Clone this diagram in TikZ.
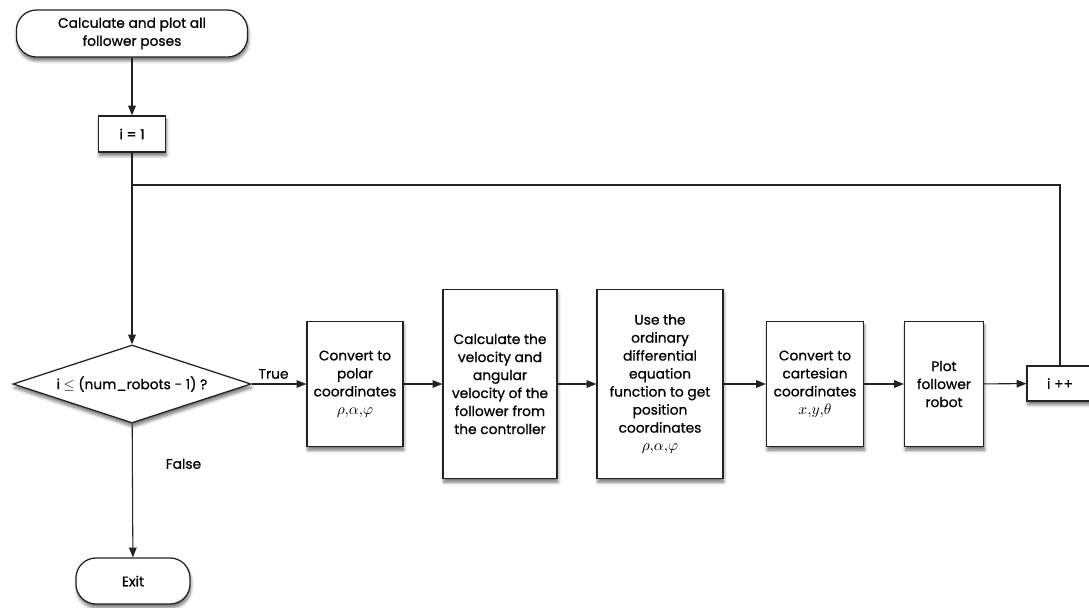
\documentclass[tikz,border=0pt]{standalone}
\usepackage{fontspec}
\setmainfont{Poppins}[FakeBold=0.8,AutoFakeBold=0.8]
\usetikzlibrary{arrows.meta,shapes.geometric,shadows.blur}
\definecolor{linegray}{RGB}{35,35,35}
\tikzset{flow/.style={-{Triangle[length=7pt,width=5.5pt]},line width=0.75pt,draw=linegray},
 box/.style={draw=linegray,line width=0.9pt,fill=white,align=center,inner sep=2pt,
  blur shadow={shadow xshift=0.6pt,shadow yshift=-2.6pt,shadow blur steps=6,shadow opacity=55}},
 terminal/.style={box,rounded corners=0.5cm},
 decision/.style={box,diamond,aspect=3,inner sep=0pt},
 every node/.style={font=\fontsize{9.8}{12.8}\selectfont\bfseries}}
\newcommand{\vars}[1]{{\fontsize{11}{12}\selectfont$#1$}}

\begin{document}
\begin{tikzpicture}[x=0.025cm,y=-0.025cm]
\clip (0,0) rectangle (1089,607);
\node[terminal,minimum width=5.775cm,minimum height=1.175cm] (start) at (132,33.5) {Calculate and plot all\\follower poses};
\node[box,minimum width=1.675cm,minimum height=0.9cm] (init) at (132,134) {i = 1};
\node[decision,minimum width=5.95cm,minimum height=1.95cm] (test) at (132,384) {i $\leq$ (num\_robots - 1) ?};
\node[box,minimum width=2.4cm,minimum height=3.125cm] (polar) at (355,384) {Convert to\\polar\\coordinates\\\vars{\rho{,}\alpha{,}\varphi}};
\node[box,minimum width=2.85cm,minimum height=4.725cm] (ctrl) at (500,384) {Calculate the\\velocity and\\angular\\velocity of the\\follower from\\the controller};
\node[box,minimum width=3.15cm,minimum height=4.725cm] (ode) at (660,384) {Use the\\ordinary\\differential\\equation\\function to get\\position\\coordinates\\\vars{\rho{,}\alpha{,}\varphi}};
\node[box,minimum width=2.425cm,minimum height=3.125cm] (cart) at (815,384) {Convert to\\cartesian\\coordinates\\\vars{x{,}y{,}\theta}};
\node[box,minimum width=1.975cm,minimum height=3.125cm] (plot) at (944,384) {Plot\\follower\\robot};
\node[box,minimum width=1.65cm,minimum height=0.875cm] (inc) at (1060,383.5) {i ++};
\node[terminal,minimum width=2.85cm,minimum height=1.15cm] (exit) at (133,581) {Exit};
\coordinate (join) at (132,185);

\draw[flow] (start) -- (init);
\draw[flow] (init) -- (test);
\draw[line width=0.75pt,draw=linegray] (inc.north) |- (join);
\draw[flow] (test) -- node[above,pos=0.4] {True} (polar);
\draw[flow] (polar) -- (ctrl);
\draw[flow] (ctrl) -- (ode);
\draw[flow] (ode) -- (cart);
\draw[flow] (cart) -- (plot);
\draw[flow] (plot) -- (inc);
\draw[flow] (test) -- node[right=20pt,pos=0.3] {False} (exit);
\end{tikzpicture}
\end{document}
